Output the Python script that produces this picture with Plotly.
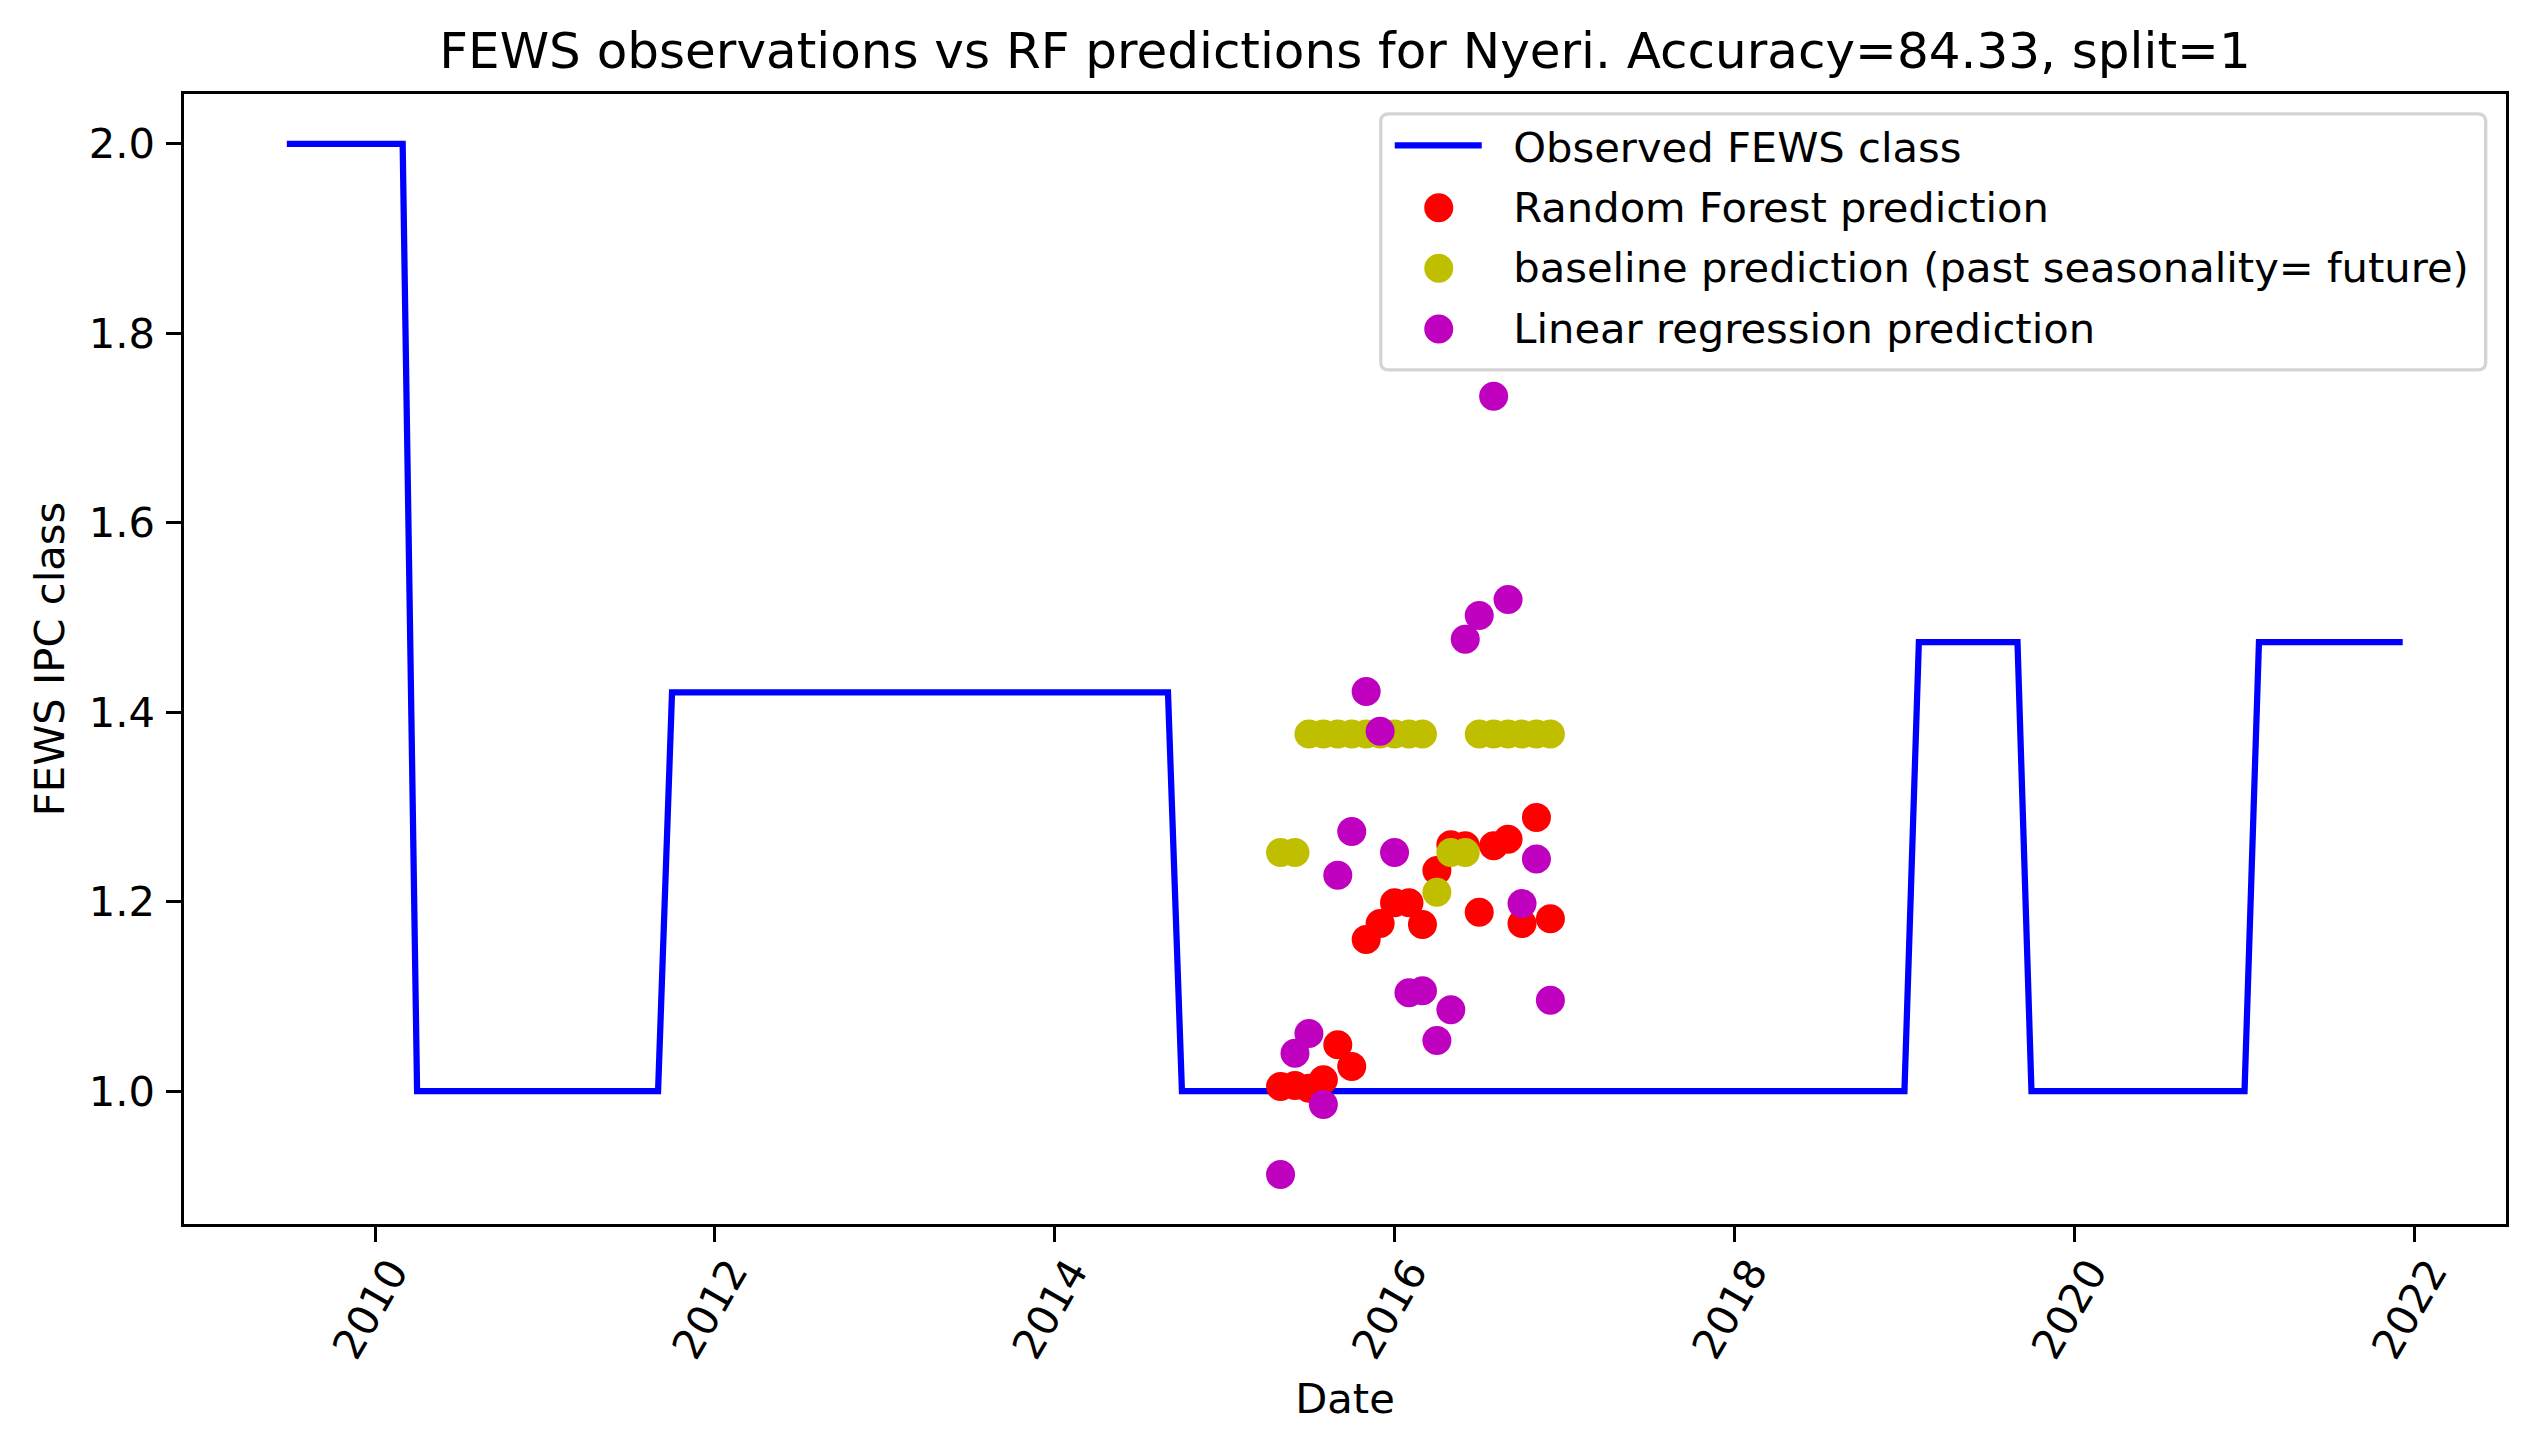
import plotly.graph_objects as go

TITLE = "FEWS observations vs RF predictions for Nyeri. Accuracy=84.33, split=1"

obs_dates = ["2009-06-25", "2010-03-01", "2010-04-01", "2011-09-01", "2011-10-01", "2014-09-01",
             "2014-10-01", "2019-01-01", "2019-02-01", "2019-09-01", "2019-10-01", "2021-01-01",
             "2021-02-01", "2021-12-07"]
obs_values = [2.0, 2.0, 1.0, 1.0, 1.421, 1.421, 1.0, 1.0, 1.474, 1.474, 1.0, 1.0, 1.474, 1.474]

pred_dates = ["2015-05-01", "2015-06-01", "2015-07-01", "2015-08-01", "2015-09-01", "2015-10-01",
              "2015-11-01", "2015-12-01", "2016-01-01", "2016-02-01", "2016-03-01", "2016-04-01",
              "2016-05-01", "2016-06-01", "2016-07-01", "2016-08-01", "2016-09-01", "2016-10-01",
              "2016-11-01", "2016-12-01"]
rf_values = [1.005, 1.006, 1.003, 1.012, 1.049, 1.026, 1.160, 1.177, 1.199, 1.199,
             1.176, 1.233, 1.260, 1.259, 1.189, 1.259, 1.266, 1.177, 1.289, 1.182]
baseline_values = [1.252, 1.252, 1.377, 1.377, 1.377, 1.377, 1.377, 1.377, 1.377, 1.377,
                   1.377, 1.210, 1.252, 1.252, 1.377, 1.377, 1.377, 1.377, 1.377, 1.377]
linreg_values = [0.912, 1.040, 1.061, 0.986, 1.228, 1.274, 1.422, 1.380, 1.252, 1.104,
                 1.106, 1.0535, 1.086, 1.477, 1.502, 1.7335, 1.519, 1.198, 1.245, 1.096]

NAMES = ["Observed FEWS class", "Random Forest prediction",
         "baseline prediction (past seasonality= future)", "Linear regression prediction"]
BLUE, RED, OLIVE, MAGENTA = "#0000ff", "#ff0000", "#bfbf00", "#bf00bf"

W, H = 2537, 1453
L, R, T, B = 184.2, 2506.3, 94.2, 1223.8
FONT = "DejaVu Sans"
FS = 41.67
LINE = 3.33
MS = 29
PAD = "\u00a0\u00a0"


def px(x):
    return (x - L) / (R - L)


def py(y):
    return (B - y) / (B - T)


fig = go.Figure()
fig.add_trace(go.Scatter(x=obs_dates, y=obs_values, mode="lines", name=PAD + NAMES[0], legendgroup="a",
                         line=dict(color=BLUE, width=6.25)))
for name, vals, col, grp in [(NAMES[1], rf_values, RED, "b"), (NAMES[2], baseline_values, OLIVE, "c"),
                             (NAMES[3], linreg_values, MAGENTA, "d")]:
    fig.add_trace(go.Scatter(x=pred_dates, y=vals, mode="markers", name=PAD + name, legendgroup=grp,
                             marker=dict(color=col, size=MS, line=dict(width=0))))

# rounded legend frame and full-size legend dots, under the transparent native legend
x0, x1, y0, y1, r = px(1381), px(2486), py(370), py(114), 8
rx, ry = r / (R - L), r / (B - T)
frame = (f"M {x0+rx} {y0} L {x1-rx} {y0} Q {x1} {y0} {x1} {y0+ry} L {x1} {y1-ry} Q {x1} {y1} {x1-rx} {y1} "
         f"L {x0+rx} {y1} Q {x0} {y1} {x0} {y1-ry} L {x0} {y0+ry} Q {x0} {y0} {x0+rx} {y0} Z")
shapes = [dict(type="path", path=frame, xref="paper", yref="paper", layer="above",
               fillcolor="rgba(255,255,255,0.8)", line=dict(color="#d4d4d4", width=LINE))]
for cy, col in [(208, RED), (268.5, OLIVE), (329, MAGENTA)]:
    shapes.append(dict(type="circle", xref="paper", yref="paper", layer="above",
                       x0=px(1439 - MS / 2), x1=px(1439 + MS / 2), y0=py(cy + MS / 2), y1=py(cy - MS / 2),
                       fillcolor=col, line=dict(width=0)))

fig.update_layout(
    width=W, height=H, autosize=False,
    paper_bgcolor="white", plot_bgcolor="white",
    margin=dict(l=L, r=W - R, t=T, b=H - B, pad=0),
    font=dict(family=FONT, size=FS, color="black"),
    title=dict(text=TITLE, font=dict(size=50, family=FONT, color="black"),
               x=1345 / W, xanchor="center", y=1 - 50.5 / H, yanchor="middle"),
    showlegend=True,
    legend=dict(x=px(1390), y=py(112), xanchor="left", yanchor="top", bgcolor="rgba(0,0,0,0)",
                borderwidth=0, font=dict(size=FS, family=FONT, color="black"), itemwidth=87,
                tracegroupgap=3.2, itemclick=False, itemdoubleclick=False),
    shapes=shapes,
    xaxis=dict(type="date", range=["2008-11-16", "2022-07-17"], tick0="2010-01-01", dtick="M24",
               tickformat="%Y", tickangle=-60, ticks="outside", ticklen=14.6, tickwidth=LINE,
               tickcolor="black", showgrid=False, zeroline=False, showline=True, linecolor="black",
               linewidth=LINE, mirror=True, ticklabelshift=16, ticklabelstandoff=-11,
               title=dict(text="Date", font=dict(size=FS, family=FONT, color="black"), standoff=18),
               automargin=False),
    yaxis=dict(range=[0.8598, 2.0526], tick0=0, dtick=0.2, tickformat=".1f", ticks="outside", ticklen=14.6,
               tickwidth=LINE, tickcolor="black", showgrid=False, zeroline=False, showline=True,
               linecolor="black", linewidth=LINE, mirror=True, ticklabelstandoff=3,
               title=dict(text="FEWS IPC class", font=dict(size=FS, family=FONT, color="black"), standoff=12),
               automargin=False),
)

fig.write_html("out.html", config={"displayModeBar": False}, post_script="document.body.style.margin='0';")
